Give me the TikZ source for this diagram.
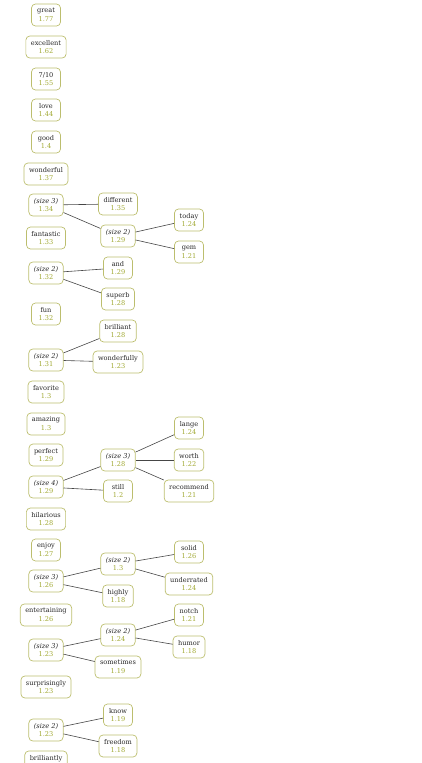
\documentclass[tikz,border=0pt]{standalone}
\usepackage{fontspec}
\setmainfont{DejaVu Serif}
\definecolor{boxc}{RGB}{188,190,110}
\definecolor{numc}{RGB}{160,168,50}
\definecolor{linec}{RGB}{70,70,70}
\tikzset{
  wbox/.style={draw=boxc, line width=0.7pt, rounded corners=4pt, align=center,
    inner xsep=5pt, inner ysep=2.5pt, minimum width=29pt, minimum height=22pt,
    font=\fontsize{6.6}{8.8}\selectfont, text=black!85},
  link/.style={draw=linec, line width=0.6pt}
}
\newcommand{\wn}[2]{#1\\{\color{numc}#2}}
\newcommand{\sn}[2]{\textit{(size #1)}\\{\color{numc}#2}}
\begin{document}
\begin{tikzpicture}[x=1pt,y=-1pt]
\useasboundingbox (0,0) rectangle (422,763);
% column 1
\node[wbox] (great) at (46,15) {\wn{great}{1.77}};
\node[wbox] (excellent) at (46,47) {\wn{excellent}{1.62}};
\node[wbox] (seven) at (46,79) {\wn{7/10}{1.55}};
\node[wbox] (love) at (46,110) {\wn{love}{1.44}};
\node[wbox] (good) at (46,142) {\wn{good}{1.4}};
\node[wbox] (wonderful) at (46,174) {\wn{wonderful}{1.37}};
\node[wbox] (s1) at (46,205) {\sn{3}{1.34}};
\node[wbox] (fantastic) at (46,238) {\wn{fantastic}{1.33}};
\node[wbox] (s2) at (46,273) {\sn{2}{1.32}};
\node[wbox] (fun) at (46,314) {\wn{fun}{1.32}};
\node[wbox] (s3) at (46,360) {\sn{2}{1.31}};
\node[wbox] (favorite) at (46,392) {\wn{favorite}{1.3}};
\node[wbox] (amazing) at (46,424) {\wn{amazing}{1.3}};
\node[wbox] (perfect) at (46,455) {\wn{perfect}{1.29}};
\node[wbox] (s4) at (46,487) {\sn{4}{1.29}};
\node[wbox] (hilarious) at (46,519) {\wn{hilarious}{1.28}};
\node[wbox] (enjoy) at (46,550) {\wn{enjoy}{1.27}};
\node[wbox] (s5) at (46,581) {\sn{3}{1.26}};
\node[wbox] (entertaining) at (46,615) {\wn{entertaining}{1.26}};
\node[wbox] (s6) at (46,650) {\sn{3}{1.23}};
\node[wbox] (surprisingly) at (46,687) {\wn{surprisingly}{1.23}};
\node[wbox] (s7) at (46,730) {\sn{2}{1.23}};
\node[wbox] (brilliantly) at (46,762) {\wn{brilliantly}{1.22}};
% column 2
\node[wbox] (different) at (118,204) {\wn{different}{1.35}};
\node[wbox] (s1b) at (118,236) {\sn{2}{1.29}};
\node[wbox] (and) at (118,268) {\wn{and}{1.29}};
\node[wbox] (superb) at (118,299) {\wn{superb}{1.28}};
\node[wbox] (brilliant) at (118,331) {\wn{brilliant}{1.28}};
\node[wbox] (wonderfully) at (118,362) {\wn{wonderfully}{1.23}};
\node[wbox] (s4b) at (118,460) {\sn{3}{1.28}};
\node[wbox] (still) at (118,491) {\wn{still}{1.2}};
\node[wbox] (s5b) at (118,564) {\sn{2}{1.3}};
\node[wbox] (highly) at (118,596) {\wn{highly}{1.18}};
\node[wbox] (s6b) at (118,635) {\sn{2}{1.24}};
\node[wbox] (sometimes) at (118,667) {\wn{sometimes}{1.19}};
\node[wbox] (know) at (118,715) {\wn{know}{1.19}};
\node[wbox] (freedom) at (118,746) {\wn{freedom}{1.18}};
% column 3
\node[wbox] (today) at (189,220) {\wn{today}{1.24}};
\node[wbox] (gem) at (189,252) {\wn{gem}{1.21}};
\node[wbox] (lange) at (189,428) {\wn{lange}{1.24}};
\node[wbox] (worth) at (189,460) {\wn{worth}{1.22}};
\node[wbox] (recommend) at (189,491) {\wn{recommend}{1.21}};
\node[wbox] (solid) at (189,552) {\wn{solid}{1.26}};
\node[wbox] (underrated) at (189,584) {\wn{underrated}{1.24}};
\node[wbox] (notch) at (189,615) {\wn{notch}{1.21}};
\node[wbox] (humor) at (189,647) {\wn{humor}{1.18}};
% links
\draw[link] (s1) -- (different);
\draw[link] (s1) -- (s1b);
\draw[link] (s1b) -- (today);
\draw[link] (s1b) -- (gem);
\draw[link] (s2) -- (and);
\draw[link] (s2) -- (superb);
\draw[link] (s3) -- (brilliant);
\draw[link] (s3) -- (wonderfully);
\draw[link] (s4) -- (s4b);
\draw[link] (s4) -- (still);
\draw[link] (s4b) -- (lange);
\draw[link] (s4b) -- (worth);
\draw[link] (s4b) -- (recommend);
\draw[link] (s5) -- (s5b);
\draw[link] (s5) -- (highly);
\draw[link] (s5b) -- (solid);
\draw[link] (s5b) -- (underrated);
\draw[link] (s6) -- (s6b);
\draw[link] (s6) -- (sometimes);
\draw[link] (s6b) -- (notch);
\draw[link] (s6b) -- (humor);
\draw[link] (s7) -- (know);
\draw[link] (s7) -- (freedom);
\end{tikzpicture}
\end{document}
